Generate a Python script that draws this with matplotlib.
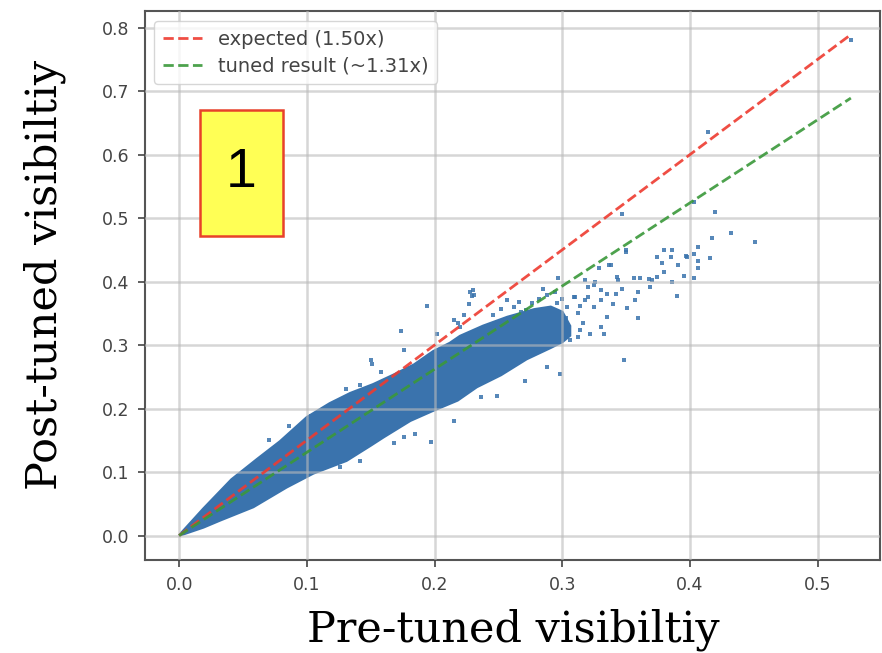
import matplotlib
matplotlib.use("Agg")
import matplotlib.pyplot as plt
from matplotlib.patches import Rectangle

cloud_upper_x = [0.000, 0.019, 0.041, 0.061, 0.079, 0.100, 0.118, 0.134, 0.152, 0.168,
                 0.184, 0.199, 0.212, 0.220, 0.238, 0.257, 0.278, 0.291, 0.300, 0.306]
cloud_upper_y = [0.000, 0.042, 0.088, 0.120, 0.148, 0.186, 0.208, 0.224, 0.238, 0.253,
                 0.269, 0.290, 0.303, 0.314, 0.330, 0.344, 0.356, 0.360, 0.352, 0.330]
cloud_lower_x = [0.000, 0.019, 0.032, 0.058, 0.084, 0.105, 0.131, 0.150, 0.160, 0.181,
                 0.199, 0.218, 0.233, 0.252, 0.272, 0.291, 0.300, 0.306]
cloud_lower_y = [0.000, 0.013, 0.024, 0.045, 0.076, 0.098, 0.118, 0.142, 0.155, 0.181,
                 0.197, 0.213, 0.234, 0.253, 0.278, 0.296, 0.305, 0.315]

# scattered points outside the dense core
scatter_x = [0.526, 0.414, 0.403, 0.347, 0.420, 0.432, 0.451, 0.417, 0.380, 0.386,
             0.406, 0.403, 0.397, 0.416, 0.406, 0.374, 0.350, 0.337, 0.329, 0.391,
             0.406, 0.380, 0.343, 0.356, 0.361, 0.368, 0.374, 0.395, 0.403, 0.386,
             0.369, 0.390, 0.359, 0.347, 0.359, 0.348, 0.298, 0.271, 0.249, 0.215,
             0.194, 0.230, 0.229, 0.215, 0.297, 0.320, 0.325, 0.330, 0.335, 0.320,
             0.330, 0.340, 0.351, 0.335, 0.322, 0.333, 0.316, 0.309, 0.304, 0.312,
             0.378, 0.385, 0.398, 0.370, 0.344, 0.350, 0.338, 0.357, 0.288, 0.312,
             0.306, 0.330, 0.314, 0.318, 0.326, 0.318, 0.310, 0.325, 0.342, 0.174,
             0.176, 0.150, 0.151, 0.158, 0.228, 0.231, 0.227, 0.218, 0.220, 0.223,
             0.202, 0.131, 0.142, 0.121, 0.266, 0.272, 0.257, 0.197, 0.185, 0.176,
             0.168, 0.236, 0.142, 0.126, 0.086, 0.070, 0.103, 0.282, 0.288, 0.276,
             0.294, 0.285, 0.300, 0.262, 0.268, 0.246, 0.252, 0.303, 0.296, 0.314]
scatter_y = [0.781, 0.636, 0.526, 0.507, 0.510, 0.477, 0.463, 0.468, 0.450, 0.450,
             0.455, 0.444, 0.440, 0.437, 0.433, 0.439, 0.450, 0.426, 0.421, 0.426,
             0.422, 0.415, 0.407, 0.406, 0.405, 0.404, 0.407, 0.409, 0.406, 0.400,
             0.391, 0.377, 0.384, 0.389, 0.342, 0.276, 0.255, 0.244, 0.219, 0.180,
             0.361, 0.386, 0.377, 0.339, 0.405, 0.392, 0.394, 0.386, 0.381, 0.376,
             0.371, 0.365, 0.358, 0.344, 0.318, 0.318, 0.334, 0.376, 0.360, 0.350,
             0.430, 0.439, 0.439, 0.402, 0.402, 0.447, 0.426, 0.371, 0.265, 0.313,
             0.308, 0.329, 0.323, 0.402, 0.400, 0.371, 0.376, 0.360, 0.381, 0.322,
             0.292, 0.277, 0.270, 0.258, 0.384, 0.379, 0.365, 0.334, 0.329, 0.347,
             0.318, 0.231, 0.237, 0.208, 0.368, 0.355, 0.371, 0.147, 0.160, 0.155,
             0.145, 0.218, 0.118, 0.108, 0.173, 0.150, 0.189, 0.372, 0.379, 0.366,
             0.384, 0.388, 0.372, 0.360, 0.352, 0.348, 0.356, 0.342, 0.366, 0.362]

line_x = [0.0, 0.526]
expected_y = [0.0, 0.789]
tuned_y = [0.0, 0.689]

x_ticks = [0.0, 0.1, 0.2, 0.3, 0.4, 0.5]
y_ticks = [0.0, 0.1, 0.2, 0.3, 0.4, 0.5, 0.6, 0.7, 0.8]

blue = "#3a73ad"

fig = plt.figure(figsize=(8.82, 6.53), dpi=100)
ax = fig.add_axes([0.164, 0.142, 0.834, 0.841])

poly_x = cloud_upper_x + cloud_lower_x[::-1]
poly_y = cloud_upper_y + cloud_lower_y[::-1]
ax.fill(poly_x, poly_y, color=blue, lw=2, zorder=2)
ax.scatter(scatter_x, scatter_y, s=10, marker="s", color=blue, alpha=0.85,
           linewidths=0, zorder=2)

ax.plot(line_x, expected_y, "--", color="#ee3b30", lw=2, alpha=0.9,
        label="expected (1.50x)", zorder=4)
ax.plot(line_x, tuned_y, "--", color="#3a983a", lw=2, alpha=0.9,
        label="tuned result (~1.31x)", zorder=4)

ax.set_xlim(-0.027, 0.549)
ax.set_ylim(-0.039, 0.826)
ax.set_xticks(x_ticks)
ax.set_yticks(y_ticks)
ax.grid(True, color="#bbbbbb", alpha=0.6, lw=1.8, zorder=3)
ax.set_axisbelow(False)
ax.tick_params(labelsize=12.5, colors="#444444", length=5, width=1.2, pad=6)
for sp in ax.spines.values():
    sp.set_color("#555555")
    sp.set_linewidth(1.5)

leg = ax.legend(loc="upper left", fontsize=14, handlelength=2.0,
                borderpad=0.45, labelspacing=0.4, framealpha=0.8)
for t in leg.get_texts():
    t.set_color("#444444")

# the numbered call-out box
ax.add_patch(Rectangle((0.0748, 0.590), 0.1129, 0.2295, transform=ax.transAxes,
                       facecolor="#ffff55", edgecolor="#e8412a", lw=1.8, zorder=6))
ax.text(0.1306, 0.705, "1", transform=ax.transAxes, ha="center", va="center",
        fontsize=40, family="Liberation Sans", color="black", zorder=7)

fig.text(0.582, 0.035, "Pre-tuned visibiltiy", ha="center", va="center",
         fontsize=31, family="DejaVu Serif", color="black")
fig.text(0.051, 0.579, "Post-tuned visibiltiy", ha="center", va="center",
         rotation=90, fontsize=31, family="DejaVu Serif", color="black")

fig.savefig("out.png", dpi=100)
